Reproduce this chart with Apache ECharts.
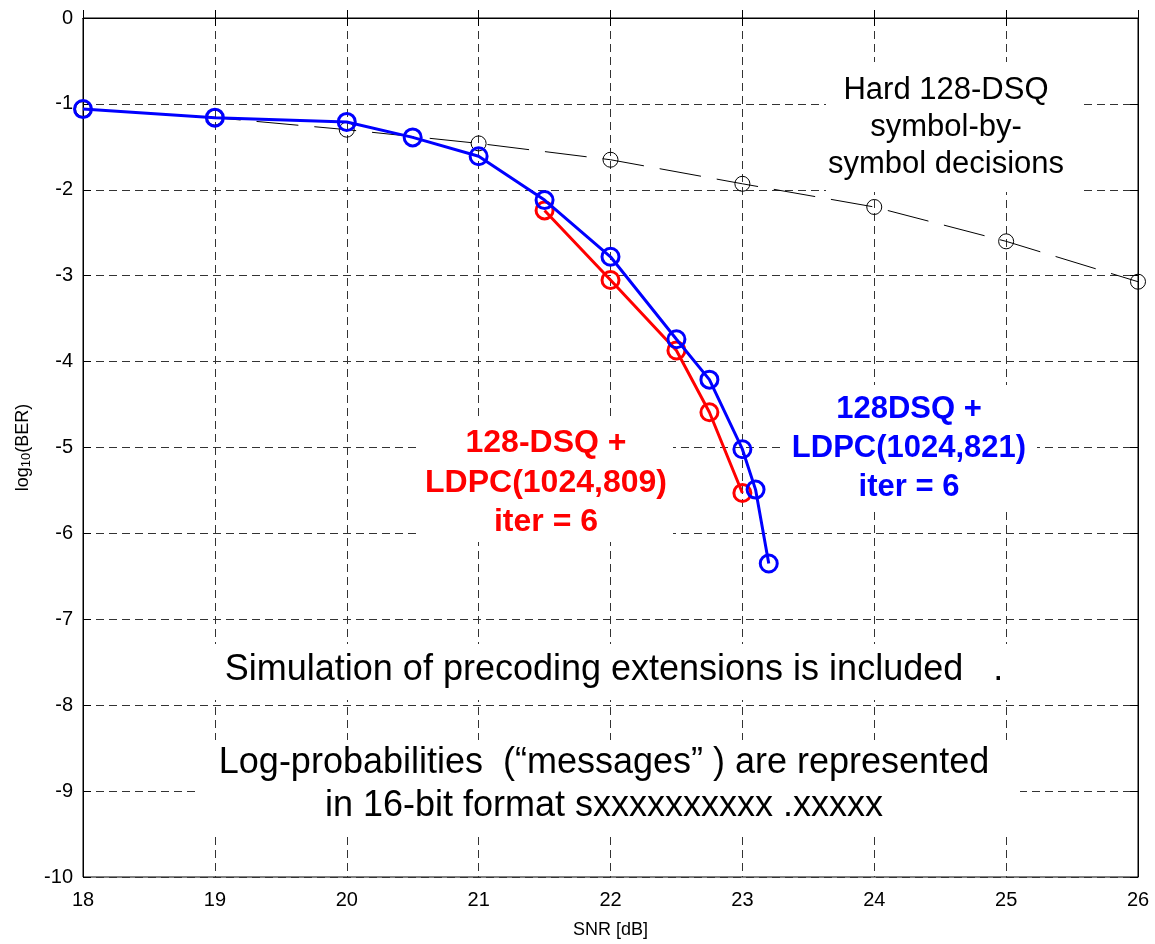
<!DOCTYPE html>
<html><head><meta charset="utf-8">
<script src="https://cdn.jsdelivr.net/npm/echarts@6/dist/echarts.min.js"></script>
<style>html,body{margin:0;padding:0;background:#fff}#c{width:1155px;height:944px}</style>
</head><body><div id="c"></div>
<script>
// ---- data ----
const hardSNR = [18, 19, 20, 21, 22, 23, 24, 25, 26];
const hardBER = [-1.06, -1.16, -1.30, -1.46, -1.65, -1.93, -2.20, -2.60, -3.07];
const blueSNR = [18, 19, 20, 20.5, 21, 21.5, 22, 22.5, 22.75, 23, 23.1, 23.2];
const blueBER = [-1.06, -1.16, -1.21, -1.39, -1.61, -2.12, -2.78, -3.74, -4.21, -5.02, -5.49, -6.35];
const redSNR = [21.5, 22, 22.5, 22.75, 23];
const redBER = [-2.24, -3.05, -3.87, -4.59, -5.53];
const xTicks = [18, 19, 20, 21, 22, 23, 24, 25, 26];
const yTicks = [0, -1, -2, -3, -4, -5, -6, -7, -8, -9, -10];

const zip = (a, b) => a.map((v, i) => [v, b[i]]);
const chart = echarts.init(document.getElementById('c'));
const FONT = 'Arial, "Liberation Sans", Helvetica, sans-serif';
const gridDash = { color: '#333', width: 1, type: [8, 5] };

chart.setOption({
  animation: false,
  backgroundColor: '#fff',
  textStyle: { fontFamily: FONT },
  grid: { left: 83, right: 17, top: 18, bottom: 64, show: true, borderColor: '#000', borderWidth: 1 },
  xAxis: [{
    type: 'value', min: xTicks[0], max: xTicks[xTicks.length - 1], interval: 1,
    name: 'SNR [dB]', nameLocation: 'middle', nameGap: 44,
    nameTextStyle: { fontSize: 18, color: '#000', fontFamily: FONT },
    axisLine: { show: true, lineStyle: { color: '#000' } },
    axisTick: { show: true, inside: true, length: 8, lineStyle: { color: '#000' } },
    axisLabel: { fontSize: 20, color: '#000', margin: 13, fontFamily: FONT },
    splitLine: { show: true, lineStyle: gridDash }
  }, {
    type: 'value', min: xTicks[0], max: xTicks[xTicks.length - 1], interval: 1, position: 'top',
    axisLine: { show: true, lineStyle: { color: '#000' } },
    axisTick: { show: true, inside: true, length: 8, lineStyle: { color: '#000' } },
    axisLabel: { show: false }, splitLine: { show: false }
  }],
  yAxis: [{
    type: 'value', min: yTicks[yTicks.length - 1], max: yTicks[0], interval: 1,
    name: '{a|log}{s|10}{a|(BER)}', nameLocation: 'middle', nameGap: 45, nameRotate: 90,
    nameTextStyle: {
      color: '#000',
      rich: {
        a: { fontSize: 18, color: '#000', fontFamily: FONT },
        s: { fontSize: 13, color: '#000', fontFamily: FONT, verticalAlign: 'bottom', padding: [8, 0, 0, 0] }
      }
    },
    axisLine: { show: true, lineStyle: { color: '#000' } },
    axisTick: { show: true, inside: true, length: 8, lineStyle: { color: '#000' } },
    axisLabel: { fontSize: 20, color: '#000', margin: 10, fontFamily: FONT },
    splitLine: { show: true, lineStyle: gridDash }
  }, {
    type: 'value', min: yTicks[yTicks.length - 1], max: yTicks[0], interval: 1, position: 'right',
    axisLine: { show: true, lineStyle: { color: '#000' } },
    axisTick: { show: true, inside: true, length: 8, lineStyle: { color: '#000' } },
    axisLabel: { show: false }, splitLine: { show: false }
  }],
  series: [{
    name: 'Hard', type: 'line', data: zip(hardSNR, hardBER),
    symbol: 'circle', symbolSize: 15,
    itemStyle: { color: 'rgba(0,0,0,0)', borderColor: '#000', borderWidth: 1 },
    lineStyle: { color: '#000', width: 1, type: [42, 16] }, z: 3
  }, {
    name: 'Red', type: 'line', data: zip(redSNR, redBER),
    symbol: 'circle', symbolSize: 17,
    itemStyle: { color: 'rgba(0,0,0,0)', borderColor: '#ff0000', borderWidth: 3 },
    lineStyle: { color: '#ff0000', width: 3 }, z: 4
  }, {
    name: 'Blue', type: 'line', data: zip(blueSNR, blueBER),
    symbol: 'circle', symbolSize: 17,
    itemStyle: { color: 'rgba(0,0,0,0)', borderColor: '#0000ff', borderWidth: 3 },
    lineStyle: { color: '#0000ff', width: 3 }, z: 5
  }],
  graphic: [
    { type: 'rect', shape: { x: 826, y: 62, width: 258, height: 130 }, style: { fill: '#fff' }, z: 10 },
    { type: 'text', x: 946, y: 127, z: 11, style: { text: 'Hard 128-DSQ\nsymbol-by-\nsymbol decisions', fill: '#000', font: '31px ' + FONT, align: 'center', verticalAlign: 'middle', lineHeight: 37 } },

    { type: 'rect', shape: { x: 417, y: 418, width: 256, height: 124 }, style: { fill: '#fff' }, z: 10 },
    { type: 'text', x: 546, y: 483, z: 11, style: { text: '128-DSQ +\nLDPC(1024,809)\niter = 6', fill: '#ff0000', font: 'bold 32px ' + FONT, align: 'center', verticalAlign: 'middle', lineHeight: 39.5 } },

    { type: 'rect', shape: { x: 780, y: 385, width: 257, height: 122 }, style: { fill: '#fff' }, z: 10 },
    { type: 'text', x: 909, y: 448, z: 11, style: { text: '128DSQ +\nLDPC(1024,821)\niter = 6', fill: '#0000ff', font: 'bold 31px ' + FONT, align: 'center', verticalAlign: 'middle', lineHeight: 39 } },

    { type: 'rect', shape: { x: 205, y: 644, width: 815, height: 56 }, style: { fill: '#fff' }, z: 10 },
    { type: 'text', x: 614, y: 670, z: 11, style: { text: 'Simulation of precoding extensions is included   .', fill: '#000', font: '36px ' + FONT, align: 'center', verticalAlign: 'middle' } },

    { type: 'rect', shape: { x: 197, y: 740, width: 823, height: 92 }, style: { fill: '#fff' }, z: 10 },
    { type: 'text', x: 604, y: 785, z: 11, style: { text: 'Log-probabilities  (\u201cmessages\u201d ) are represented\nin 16-bit format sxxxxxxxxxx .xxxxx', fill: '#000', font: '36px ' + FONT, align: 'center', verticalAlign: 'middle', lineHeight: 43 } }
  ]
});
</script></body></html>
